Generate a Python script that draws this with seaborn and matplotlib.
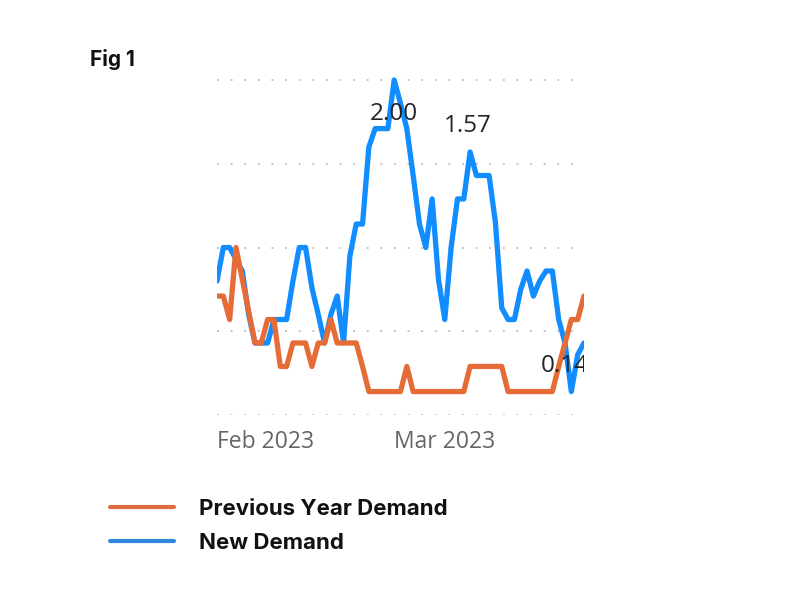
import matplotlib
matplotlib.use("Agg")
import numpy as np
import pandas as pd
import matplotlib.pyplot as plt
import seaborn as sns

# daily values, Feb 1 - Mar 31 2023 (7-day averages)
dates = pd.date_range("2023-02-01", "2023-03-31", freq="D")

prev_year_demand = [
    0.71, 0.71, 0.57, 1.00, 0.81, 0.62, 0.43, 0.43, 0.57, 0.57,
    0.29, 0.29, 0.43, 0.43, 0.43, 0.29, 0.43, 0.43, 0.57, 0.43,
    0.43, 0.43, 0.43, 0.29, 0.14, 0.14, 0.14, 0.14, 0.14, 0.14,
    0.29, 0.14, 0.14, 0.14, 0.14, 0.14, 0.14, 0.14, 0.14, 0.14,
    0.29, 0.29, 0.29, 0.29, 0.29, 0.29, 0.14, 0.14, 0.14, 0.14,
    0.14, 0.14, 0.14, 0.14, 0.29, 0.43, 0.57, 0.57, 0.71,
]

new_demand = [
    0.80, 1.00, 1.00, 0.93, 0.86, 0.60, 0.43, 0.43, 0.43, 0.57,
    0.57, 0.57, 0.80, 1.00, 1.00, 0.76, 0.60, 0.43, 0.60, 0.71,
    0.43, 0.95, 1.14, 1.14, 1.60, 1.71, 1.71, 1.71, 2.00, 1.86,
    1.71, 1.43, 1.14, 1.00, 1.29, 0.81, 0.57, 1.00, 1.29, 1.29,
    1.57, 1.43, 1.43, 1.43, 1.15, 0.64, 0.57, 0.57, 0.75, 0.86,
    0.71, 0.80, 0.86, 0.86, 0.57, 0.43, 0.14, 0.36, 0.43,
]

series_names = ["Previous Year Demand", "New Demand"]
y_ticks = [0, 0.5, 1.0, 1.5, 2.0]
x_tick_dates = ["2023-02-01", "2023-03-01"]
x_tick_labels = ["Feb 2023", "Mar 2023"]

# data labels: (index into the series, offset in pixels)
labelled_points = [(28, (0, -34)), (40, (-2, 26)), (56, (-7, 26))]

ORANGE = "#E66C37"
BLUE = "#118DFF"


def main():
    sns.set_theme(style="white")
    plt.rcParams["font.family"] = ["Open Sans", "DejaVu Sans"]

    df = pd.DataFrame({
        "Date": dates,
        series_names[0]: prev_year_demand,
        series_names[1]: new_demand,
    }).melt(id_vars="Date", var_name="Series", value_name="Demand")

    fig = plt.figure(figsize=(8, 6), dpi=100)
    ax = fig.add_axes([217 / 800, 185 / 600, 367 / 800, 340 / 600])

    sns.lineplot(data=df, x="Date", y="Demand", hue="Series",
                 hue_order=series_names, palette=[ORANGE, BLUE],
                 linewidth=3.8, ax=ax)
    ax.lines[0].set_zorder(4)
    ax.lines[1].set_zorder(3)

    ax.set_xlim(dates[0], dates[-1])
    ax.set_ylim(0, 2.03)
    ax.set_yticks(y_ticks)
    ax.yaxis.grid(True, color="#C4C4C4", linewidth=1.4, linestyle=(0, (1, 6)))
    ax.tick_params(axis="y", left=False, labelleft=False)
    ax.set_xticks(pd.to_datetime(x_tick_dates))
    ax.set_xticklabels(x_tick_labels, ha="left")
    ax.tick_params(axis="x", bottom=False, pad=5, labelsize=16.5,
                   labelcolor="#666666")
    ax.set_xlabel("")
    ax.set_ylabel("")
    sns.despine(ax=ax, left=True, bottom=True)

    for idx, offset in labelled_points:
        t = ax.annotate(f"{new_demand[idx]:.2f}", (dates[idx], new_demand[idx]),
                        xytext=offset, textcoords="offset pixels",
                        ha="center", va="center", fontsize=17.5,
                        color="#252423", zorder=6, annotation_clip=False)
        t.set_clip_on(True)
        t.set_clip_path(ax.patch)

    handles, labels = ax.get_legend_handles_labels()
    ax.get_legend().remove()
    leg = fig.legend(handles, labels, loc="upper left",
                     bbox_to_anchor=(110 / 800, 1 - 499 / 600),
                     frameon=False, borderpad=0, borderaxespad=0,
                     handlelength=2.9, handletextpad=1.1, labelspacing=0.62,
                     prop={"family": ["Inter", "DejaVu Sans"],
                           "weight": "bold", "size": 16})
    for line, color in zip(leg.get_lines(), ["#DD6E3E", "#2F88DC"]):
        line.set_linewidth(3)
        line.set_color(color)
    for text in leg.get_texts():
        text.set_color("#111111")

    fig.text(90 / 800, 1 - 60 / 600, "Fig 1", fontsize=15, fontweight="bold",
             family=["Inter", "DejaVu Sans"], va="center", ha="left",
             color="#111111")

    fig.savefig("out.png", dpi=100)
    plt.close(fig)


if __name__ == "__main__":
    main()
